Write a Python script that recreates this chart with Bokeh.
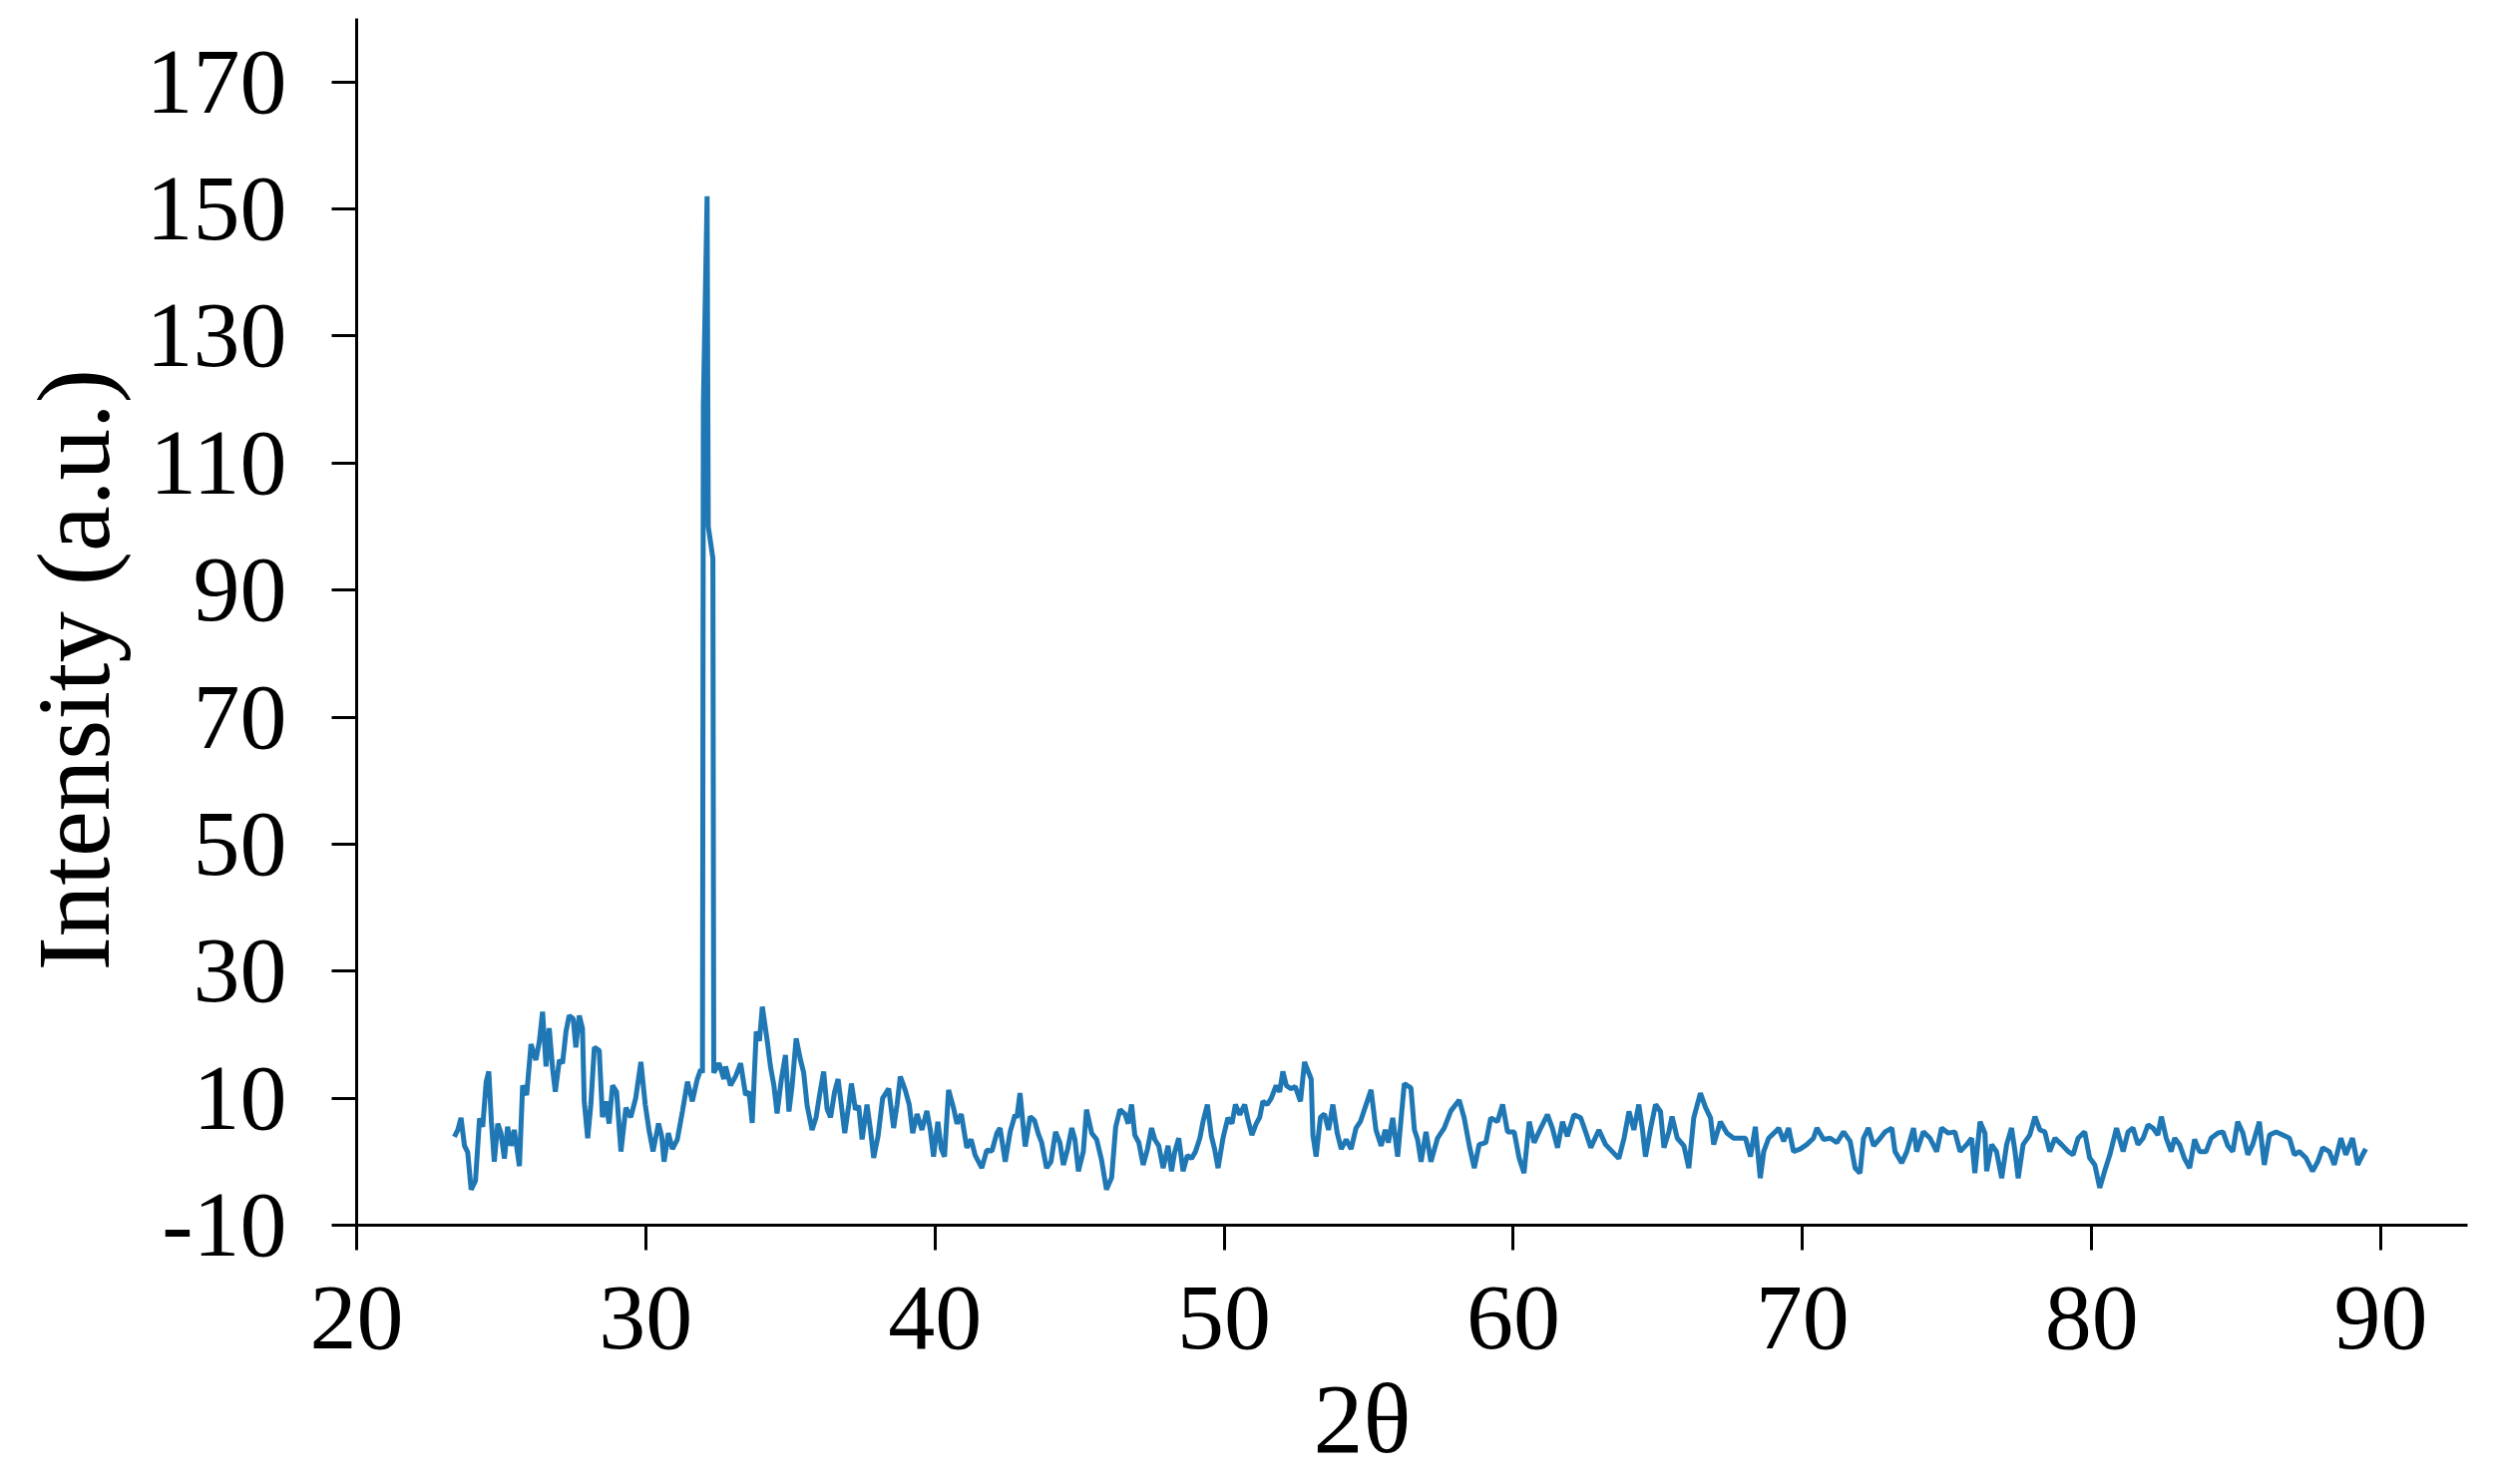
from bokeh.plotting import figure
from bokeh.models import Range1d, FixedTicker, Title
from bokeh.embed import file_html
from bokeh.resources import INLINE

# XRD pattern
two_theta = [
    23.38, 23.50, 23.61, 23.73, 23.84, 23.96, 24.11, 24.25, 24.36, 24.48, 24.57, 24.66, 24.76, 24.88, 24.99,
    25.11, 25.22, 25.34, 25.45, 25.63, 25.74, 25.88, 26.03, 26.20, 26.32, 26.43, 26.55, 26.66, 26.78, 26.87,
    27.01, 27.12, 27.24, 27.35, 27.49, 27.58, 27.70, 27.81, 27.87, 27.99, 28.10, 28.22, 28.39, 28.50, 28.62,
    28.73, 28.85, 28.99, 29.14, 29.31, 29.48, 29.65, 29.83, 29.98, 30.11, 30.25, 30.44, 30.55, 30.63, 30.78,
    30.92, 31.09, 31.27, 31.44, 31.61, 31.78, 31.90, 31.96, 31.99, 32.12, 32.16, 32.32, 32.35, 32.53, 32.70,
    32.76, 32.93, 33.11, 33.28, 33.45, 33.57, 33.68, 33.82, 33.93, 34.03, 34.20, 34.31, 34.43, 34.54, 34.69,
    34.83, 34.95, 35.06, 35.20, 35.35, 35.46, 35.58, 35.75, 35.89, 36.01, 36.15, 36.27, 36.39, 36.53, 36.65,
    36.76, 36.88, 37.02, 37.11, 37.25, 37.36, 37.48, 37.65, 37.77, 37.88, 38.03, 38.19, 38.40, 38.57, 38.69,
    38.80, 38.97, 39.11, 39.23, 39.38, 39.55, 39.72, 39.84, 39.95, 40.10, 40.22, 40.33, 40.47, 40.64, 40.76,
    40.91, 41.10, 41.25, 41.39, 41.62, 41.79, 41.97, 42.14, 42.25, 42.43, 42.60, 42.77,
    42.83, 42.94, 43.12, 43.29, 43.44, 43.58, 43.69, 43.86, 44.01, 44.17, 44.32, 44.44, 44.59, 44.73, 44.84,
    44.96, 45.13, 45.24, 45.42, 45.59, 45.76, 45.93, 46.11, 46.25, 46.40, 46.57, 46.68, 46.80, 46.91, 47.05,
    47.20, 47.35, 47.49, 47.60, 47.74, 47.89, 48.06, 48.18, 48.29, 48.43, 48.58, 48.73, 48.87, 49.01, 49.16,
    49.27, 49.42, 49.56, 49.67, 49.79, 49.96, 50.13, 50.27, 50.39, 50.54, 50.71, 50.83, 50.96, 51.11, 51.23,
    51.34, 51.49, 51.63, 51.80, 51.92, 52.03, 52.15, 52.30, 52.46, 52.64, 52.78,
    53.01, 53.07, 53.18, 53.33, 53.47, 53.61, 53.76, 53.91, 54.05, 54.22, 54.39, 54.56, 54.71, 54.91, 55.08,
    55.25, 55.43, 55.57, 55.68, 55.83, 56.00, 56.23, 56.46, 56.58, 56.69, 56.81, 56.98, 57.15, 57.38, 57.61,
    57.84, 58.13, 58.30, 58.48, 58.65, 58.82, 59.05, 59.22, 59.45, 59.63, 59.80, 60.03, 60.20, 60.37, 60.55,
    60.72, 60.95, 61.18, 61.35, 61.53, 61.70, 61.87, 62.10, 62.33, 62.50, 62.68,
    62.96, 63.19, 63.42, 63.65, 63.83, 64.00, 64.17, 64.34, 64.46, 64.57, 64.75, 64.92, 65.09, 65.21, 65.38,
    65.49, 65.67, 65.90, 66.07, 66.24, 66.47, 66.65, 66.82, 66.93, 67.16, 67.39, 67.62, 67.85, 68.03, 68.20,
    68.37, 68.54, 68.66, 68.83, 69.06, 69.18, 69.35, 69.52, 69.69, 69.92, 70.15, 70.38, 70.50, 70.73, 70.96,
    71.19, 71.42, 71.65, 71.82, 71.99, 72.11, 72.28, 72.46, 72.69, 72.86,
    73.09, 73.20, 73.43, 73.61, 73.84, 73.95, 74.18, 74.41, 74.64, 74.81, 75.04, 75.27, 75.45, 75.68, 75.85,
    75.96, 76.14, 76.31, 76.37, 76.54, 76.71, 76.89, 77.06, 77.23, 77.35, 77.46, 77.63, 77.86, 78.04, 78.21,
    78.38, 78.55, 78.73, 78.96, 79.19, 79.36, 79.53, 79.76, 79.93, 80.11, 80.28, 80.45, 80.63, 80.86, 81.09,
    81.26, 81.43, 81.60, 81.78, 81.95, 82.12, 82.29, 82.41, 82.58, 82.75,
    82.87, 83.04, 83.21, 83.39, 83.56, 83.73, 83.96, 84.13, 84.36, 84.54, 84.71, 84.88, 85.05, 85.23, 85.40,
    85.57, 85.80, 85.97, 86.15, 86.38, 86.61, 86.84, 87.01, 87.18, 87.41, 87.64, 87.82, 87.99, 88.22, 88.39,
    88.62, 88.79, 89.02, 89.20, 89.37, 89.48,
]

intensity = [
    3.9, 5.0, 6.9, 2.5, 1.5, -4.4, -3.0, 6.8, 5.5, 12.6, 14.2, 6.3, 0.0, 6.0, 4.5,
    0.5, 5.5, 2.5, 5.0, -0.7, 12.0, 10.5, 18.5, 16.0, 19.0, 23.6, 15.0, 21.0, 14.5, 11.0,
    16.0, 15.5, 20.5, 23.0, 22.5, 18.0, 23.0, 21.0, 9.5, 3.7, 9.0, 18.0, 17.5, 7.0, 9.5,
    6.0, 12.0, 11.0, 1.6, 8.5, 7.0, 10.0, 15.7, 9.0, 5.0, 1.6, 6.0, 4.0, 0.0, 4.5,
    2.0, 3.5, 8.0, 12.6, 9.5, 13.0, 14.5, 14.0, 119.0, 152.0, 100.0, 95.0, 14.0, 15.5, 13.0,
    15.0, 12.0, 13.5, 15.5, 10.5, 11.0, 6.1, 20.5, 19.0, 24.4, 19.0, 15.0, 12.0, 7.6, 13.0,
    16.8, 7.9, 12.0, 19.4, 16.0, 14.0, 8.8, 5.0, 7.0, 10.5, 14.2, 8.3, 7.0, 11.0, 13.0,
    9.0, 4.5, 9.0, 12.3, 8.2, 8.8, 3.5, 9.0, 5.0, 0.6, 4.0, 10.0, 11.5, 5.3, 9.0,
    13.4, 11.3, 9.0, 4.5, 7.5, 5.0, 8.0, 5.0, 0.8, 6.3, 2.0, 0.8, 11.3, 8.5, 6.0,
    7.5, 2.2, 3.5, 1.0, -1.0, 1.8, 1.7, 4.5, 5.3, 0.0, 4.7, 7.4,
    6.9, 10.8, 2.4, 7.1, 6.5, 4.3, 3.0, -1.0, 0.0, 4.7, 3.0, -0.5, 2.0, 5.3, 3.5,
    -1.5, 1.6, 8.2, 4.5, 3.5, 0.3, -4.4, -2.5, 5.5, 8.2, 7.5, 6.0, 9.0, 4.2, 3.0,
    -0.5, 2.0, 5.3, 3.5, 2.5, -1.0, 2.5, -1.5, 1.5, 3.7, -1.5, 1.0, 0.5, 1.6, 3.7,
    6.3, 9.0, 4.0, 2.0, -1.0, 3.7, 6.9, 6.0, 9.0, 7.4, 9.0, 6.5, 4.2, 6.0, 7.0,
    9.5, 9.0, 10.0, 12.0, 11.0, 14.2, 12.0, 11.5, 11.8, 9.5, 15.7,
    13.0, 4.2, 0.8, 7.0, 7.5, 5.0, 9.0, 4.5, 2.0, 3.5, 2.0, 5.3, 6.3, 9.0, 11.3,
    5.0, 2.5, 5.0, 3.0, 6.9, 0.8, 12.3, 11.6, 5.0, 3.5, 0.0, 4.7, 0.0, 3.7, 5.3,
    8.0, 9.7, 6.9, 2.5, -1.0, 2.7, 3.0, 6.9, 6.3, 9.0, 4.7, 4.7, 0.6, -1.8, 6.3,
    3.0, 5.3, 7.4, 5.3, 2.2, 6.3, 4.0, 7.4, 6.9, 4.7, 2.2,
    5.0, 2.7, 1.6, 0.5, 3.7, 7.9, 5.0, 9.0, 5.3, 0.8, 5.3, 9.0, 7.9, 2.2, 4.7,
    7.1, 3.7, 2.5, -1.0, 6.9, 10.8, 8.5, 6.9, 2.7, 6.3, 4.5, 3.7, 3.7, 3.7, 0.8,
    5.5, -2.6, 1.6, 3.7, 4.7, 5.3, 3.2, 5.3, 1.6, 2.0, 2.7, 3.7, 5.3, 3.5, 3.7,
    3.0, 4.7, 3.2, -1.0, -1.8, 3.7, 5.3, 2.5, 3.7, 4.7,
    5.3, 1.6, -0.2, 1.6, 5.3, 1.6, 4.7, 3.7, 1.6, 5.3, 4.5, 4.7, 1.6, 2.7, 3.7,
    -1.8, 6.3, 4.5, -1.5, 2.7, 1.6, -2.6, 2.7, 5.3, 1.6, -2.6, 2.7, 4.2, 7.1, 5.0,
    4.7, 1.6, 3.7, 2.7, 1.6, 1.1, 3.7, 4.7, 0.6, -0.5, -4.1, -1.5, 1.1, 5.3, 1.6,
    4.7, 5.3, 2.7, 3.7, 5.8, 5.3, 4.2, 7.1, 3.7, 1.6,
    3.7, 2.7, 0.5, -1.0, 3.5, 1.6, 1.6, 3.7, 4.5, 4.7, 2.5, 1.6, 6.3, 4.5, 1.1,
    2.7, 6.3, -0.5, 4.2, 4.7, 4.2, 3.7, 1.1, 1.6, 0.6, -1.5, 0.0, 2.2, 1.6, -0.5,
    3.7, 1.1, 3.7, -0.5, 1.1, 2.0,
]

x_ticks = [20, 30, 40, 50, 60, 70, 80, 90]
y_ticks = [-10, 10, 30, 50, 70, 90, 110, 130, 150, 170]
x_label = "2θ"
y_label = "Intensity (a.u.)"

FONT = "Liberation Serif"

p = figure(
    width=2486, height=1488,
    x_range=Range1d(20, 93), y_range=Range1d(-10, 180),
    output_backend="svg", toolbar_location=None,
    min_border_left=357, min_border_right=13, min_border_top=18, min_border_bottom=260,
)
p.outline_line_color = None
p.grid.visible = False
p.background_fill_color = "white"
p.border_fill_color = "white"

p.line(two_theta, intensity, line_color="#1f77b4", line_width=5)

for ax in (p.xaxis[0], p.yaxis[0]):
    ax.axis_line_width = 3
    ax.axis_line_color = "black"
    ax.major_tick_line_width = 3
    ax.major_tick_line_color = "black"
    ax.major_tick_out = 25
    ax.major_tick_in = 0
    ax.minor_tick_line_color = None
    ax.major_label_text_font = FONT
    ax.major_label_text_font_size = "94px"
    ax.major_label_text_color = "black"

p.xaxis[0].ticker = FixedTicker(ticks=x_ticks)
p.yaxis[0].ticker = FixedTicker(ticks=y_ticks)
p.yaxis[0].major_label_overrides = {-10: "-10"}
p.xaxis[0].major_label_standoff = 37
p.yaxis[0].major_label_standoff = 45

# axis titles, offset along the axes as in the reference
p.add_layout(Title(text=y_label, align="left", offset=255, standoff=26,
                   text_font=FONT, text_font_size="103px", text_font_style="normal",
                   text_color="black"), "left")
p.add_layout(Title(text=x_label, align="left", offset=959, standoff=20,
                   text_font=FONT, text_font_size="100px", text_font_style="normal",
                   text_color="black"), "below")

open("out.html", "w").write(file_html(p, INLINE))
